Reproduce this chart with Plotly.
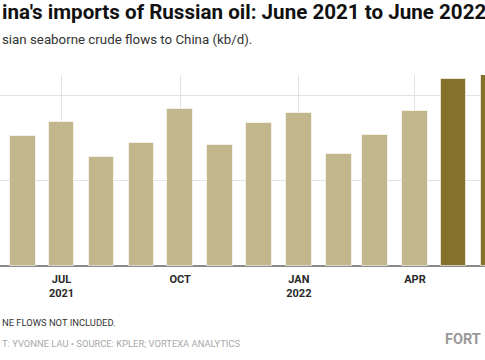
import plotly.graph_objects as go
import pandas as pd

months = ["2021-06-01", "2021-07-01", "2021-08-01", "2021-09-01", "2021-10-01", "2021-11-01",
          "2021-12-01", "2022-01-01", "2022-02-01", "2022-03-01", "2022-04-01", "2022-05-01",
          "2022-06-01"]
flows_kbd = [760, 840, 639, 718, 920, 706, 835, 893, 653, 764, 908, 1092, 1120]
highlight = [False] * 11 + [True, True]

tick_dates = ["2021-07-01", "2021-10-01", "2022-01-01", "2022-04-01"]
tick_labels = ["JUL<br>2021", "OCT", "JAN<br>2022", "APR"]

title_text = "ina's imports of Russian oil: June 2021 to June 2022"
subtitle_text = "sian seaborne crude flows to China (kb/d)."
note_text = "NE FLOWS NOT INCLUDED."
source_text = "T: YVONNE LAU \u2022 SOURCE: KPLER; VORTEXA ANALYTICS"
brand_text = "FORT"

LIGHT = "#c2b68c"
DARK = "#85712b"

colors = [DARK if h else LIGHT for h in highlight]

W, H = 485, 360
T, B = 75, 94
plot_h = H - T - B

def py(ypx):
    return (H - B - ypx) / plot_h

jul1 = pd.Timestamp("2021-07-01")
x_range = [jul1 - pd.Timedelta(days=47.7), jul1 + pd.Timedelta(days=328.3)]

fig = go.Figure()
fig.add_trace(go.Bar(
    x=pd.to_datetime(months),
    y=flows_kbd,
    marker=dict(color=colors, line=dict(color="rgba(255,255,255,0.6)", width=1)),
    width=19.8 * 24 * 3600 * 1000,
    hoverinfo="skip",
))

fig.update_layout(
    width=W, height=H,
    margin=dict(l=0, r=0, t=T, b=B, pad=0),
    paper_bgcolor="white",
    plot_bgcolor="white",
    showlegend=False,
    bargap=0,
)

fig.update_xaxes(
    type="date",
    range=x_range,
    tickvals=pd.to_datetime(tick_dates),
    ticktext=tick_labels,
    tickfont=dict(family="Roboto, sans-serif", size=11, color="#2a2a2a", weight="bold"),
    ticklabelstandoff=5,
    showgrid=True, gridcolor="#e2e2e2", gridwidth=1,
    ticks="", showline=False, zeroline=False,
    fixedrange=True,
)
fig.update_yaxes(
    range=[0, 1117],
    tickvals=[0, 500, 1000],
    showticklabels=False,
    showgrid=True, gridcolor="#e2e2e2", gridwidth=1,
    zeroline=True, zerolinecolor="#8a8a8a", zerolinewidth=1.5,
    showline=False, ticks="",
    fixedrange=True,
)

annos = [
    dict(text=title_text, x=0, y=py(12.5), font=dict(family="Roboto, sans-serif", size=20.6, color="#111111", weight="bold")),
    dict(text=subtitle_text, x=0, y=py(40), font=dict(family="Roboto, sans-serif", size=13.3, color="#333333")),
    dict(text=note_text, x=0, y=py(322), font=dict(family="Roboto, sans-serif", size=9.4, color="#333333")),
    dict(text=source_text, x=0, y=py(343), font=dict(family="Roboto, sans-serif", size=9.4, color="#a8a8a8")),
]
for a in annos:
    fig.add_annotation(xref="paper", yref="paper", xanchor="left", yanchor="middle",
                       showarrow=False, **a)
fig.add_annotation(text=brand_text, xref="paper", yref="paper", x=0.996, y=py(339), xanchor="right",
                   yanchor="middle", showarrow=False,
                   font=dict(family="Roboto, sans-serif", size=14.5, color="#9a9a9a", weight="bold"))

fig.write_html("out.html", config={"displayModeBar": False},
               post_script="document.body.style.margin='0';document.body.style.overflow='hidden';")
